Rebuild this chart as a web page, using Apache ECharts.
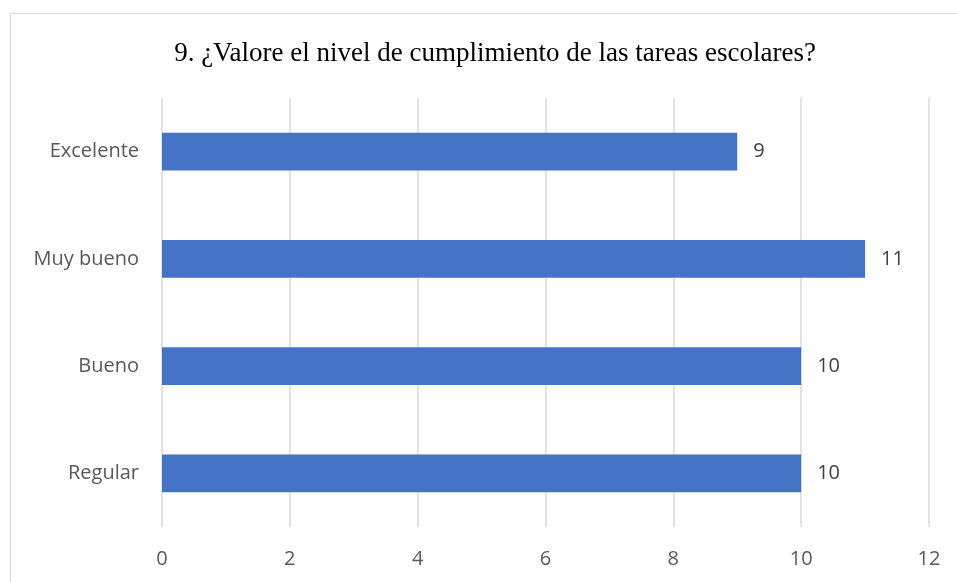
<!DOCTYPE html>
<html><head><meta charset="utf-8">
<script src="https://cdn.jsdelivr.net/npm/echarts@6/dist/echarts.min.js"></script>
<style>html,body{margin:0;padding:0;background:#fff}#c{width:957px;height:582px}</style>
</head><body><div id="c"></div>
<script>
const titleText = '9. ¿Valore el nivel de cumplimiento de las tareas escolares?';
const categories = ['Regular', 'Bueno', 'Muy bueno', 'Excelente'];
const values = [10, 10, 11, 9];
const xTicks = { min: 0, max: 12, interval: 2 };

const chart = echarts.init(document.getElementById('c'), null, { renderer: 'canvas' });
chart.setOption({
  animation: false,
  backgroundColor: '#ffffff',
  graphic: [{
    type: 'rect', shape: { x: 10.5, y: 13.5, width: 1000, height: 1000 },
    style: { fill: 'none', stroke: '#d9d9d9', lineWidth: 1 }, silent: true, z: -1
  }],
  title: {
    text: titleText, left: 490, top: 35, textAlign: 'center',
    textStyle: { fontFamily: 'Liberation Serif', fontSize: 27, fontWeight: 'normal', color: '#000000' }
  },
  grid: { left: 162, right: 28, top: 98, bottom: 55, containLabel: false },
  xAxis: {
    type: 'value', min: xTicks.min, max: xTicks.max, interval: xTicks.interval,
    axisLine: { show: false }, axisTick: { show: false },
    splitLine: { lineStyle: { color: '#d9d9d9', width: 1.5 } },
    axisLabel: { margin: 22, color: '#595959', fontFamily: 'Open Sans', fontSize: 20 }
  },
  yAxis: {
    type: 'category', data: categories,
    axisLine: { show: false }, axisTick: { show: false },
    axisLabel: { margin: 23, color: '#595959', fontFamily: 'Open Sans', fontSize: 20 }
  },
  series: [{
    type: 'bar', data: values, barWidth: '35%',
    itemStyle: { color: '#4472c4' },
    label: { show: true, position: 'right', distance: 16, color: '#404040', fontFamily: 'Open Sans', fontSize: 20 }
  }]
});
</script></body></html>
